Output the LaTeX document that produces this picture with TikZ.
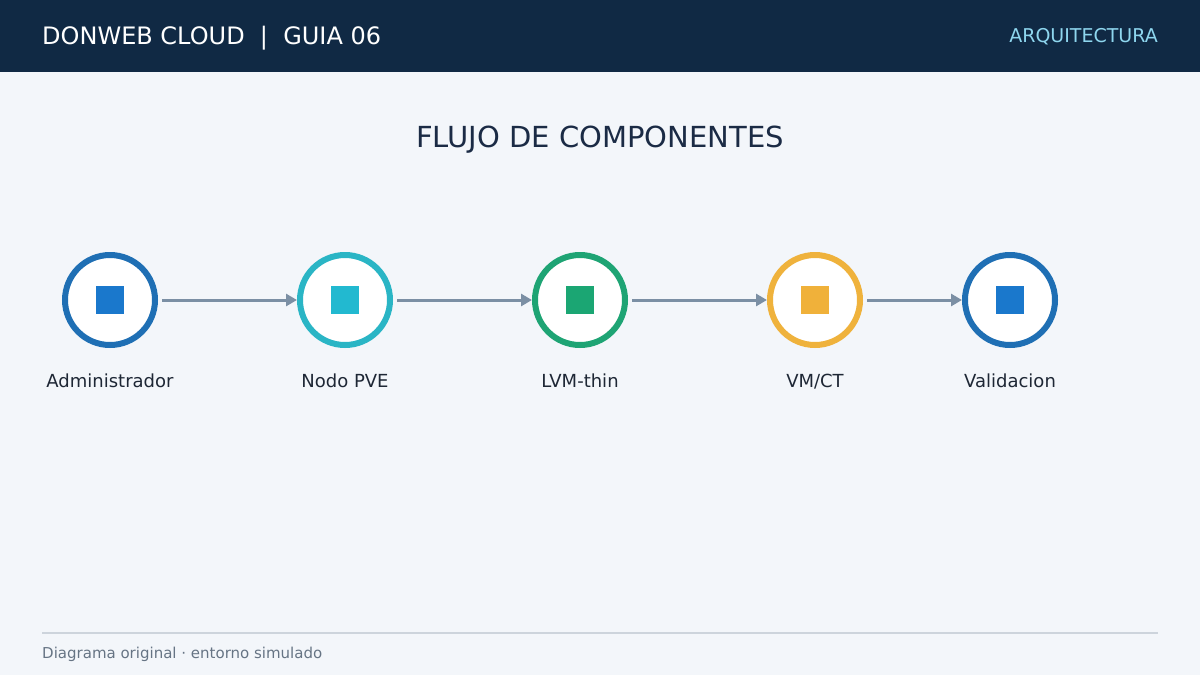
\documentclass[tikz,border=0pt]{standalone}
\usepackage{fontspec}
\setmainfont{DejaVu Sans}
\usepackage{xcolor}
\usetikzlibrary{positioning, arrows.meta, calc}
\definecolor{hdrblue}{RGB}{16, 41, 68}
\definecolor{pagebg}{RGB}{243, 246, 250}
\definecolor{tagcyan}{RGB}{142, 214, 238}
\definecolor{titleblue}{RGB}{27, 43, 69}
\definecolor{ringblue}{RGB}{31, 111, 180}
\definecolor{sqblue}{RGB}{26, 120, 204}
\definecolor{ringteal}{RGB}{42, 181, 197}
\definecolor{sqteal}{RGB}{34, 185, 208}
\definecolor{ringgreen}{RGB}{30, 164, 116}
\definecolor{sqgreen}{RGB}{27, 166, 115}
\definecolor{ringamber}{RGB}{239, 178, 60}
\definecolor{sqamber}{RGB}{240, 177, 58}
\definecolor{flowgray}{RGB}{123, 143, 164}
\definecolor{labeltext}{RGB}{30, 39, 53}
\definecolor{footline}{RGB}{205, 212, 220}
\definecolor{foottext}{RGB}{102, 116, 132}

\begin{document}
\begin{tikzpicture}[x=1pt, y=-1pt,
    stage/.style={circle, draw=#1, line width=6pt, fill=white, minimum size=90pt, inner sep=0pt},
    core/.style={fill=#1, minimum size=28pt, inner sep=0pt},
    flow/.style={draw=flowgray, line width=3pt, -{Triangle[length=11pt, width=12pt]}, shorten <=4pt},
    caption/.style={anchor=base, text=labeltext, font=\fontsize{18}{22}\selectfont}
  ]
        \useasboundingbox (0,0) rectangle (1200,675);
        \fill[pagebg] (0,0) rectangle (1200,675);
        % header band
        \fill[hdrblue] (0,0) rectangle (1200,72);
        \node[anchor=base west, text=white, inner sep=0pt, font=\fontsize{24}{28}\selectfont] (brand) at (42,44) {DONWEB CLOUD\ \ |\ \ GUIA 06};
        \node[anchor=base east, text=tagcyan, inner sep=0pt, font=\fontsize{19}{22}\selectfont] (tag) at (1158,42) {ARQUITECTURA};
        \node[anchor=base, text=titleblue, inner sep=0pt, font=\fontsize{29}{33}\selectfont] (heading) at (600,147) {FLUJO DE COMPONENTES};

        % stages
        \node[stage=ringblue] (admin) at (110,300) {};
        \node[stage=ringteal] (pve) at (345,300) {};
        \node[stage=ringgreen] (lvm) at (580,300) {};
        \node[stage=ringamber] (vmct) at (815,300) {};
        \node[stage=ringblue] (check) at (1010,300) {};

        \node[core=sqblue] at (admin) {};
        \node[core=sqteal] at (pve) {};
        \node[core=sqgreen] at (lvm) {};
        \node[core=sqamber] at (vmct) {};
        \node[core=sqblue] at (check) {};

        \node[caption] (admin-txt) at (110,387) {Administrador};
        \node[caption] (pve-txt) at (345,387) {Nodo PVE};
        \node[caption] (lvm-txt) at (580,387) {LVM-thin};
        \node[caption] (vmct-txt) at (815,387) {VM/CT};
        \node[caption] (check-txt) at (1010,387) {Validacion};

        \draw[flow] (admin) -- (pve);
        \draw[flow] (pve) -- (lvm);
        \draw[flow] (lvm) -- (vmct);
        \draw[flow] (vmct) -- (check);

        % footer
        \coordinate (foot-l) at (42,633);
        \coordinate (foot-r) at (1158,633);
        \draw[footline, line width=2pt] (foot-l) -- (foot-r);
        \node[anchor=base west, text=foottext, inner sep=0pt, font=\fontsize{15}{18}\selectfont] (note) at (42,658) {Diagrama original · entorno simulado};
    \end{tikzpicture}
\end{document}
